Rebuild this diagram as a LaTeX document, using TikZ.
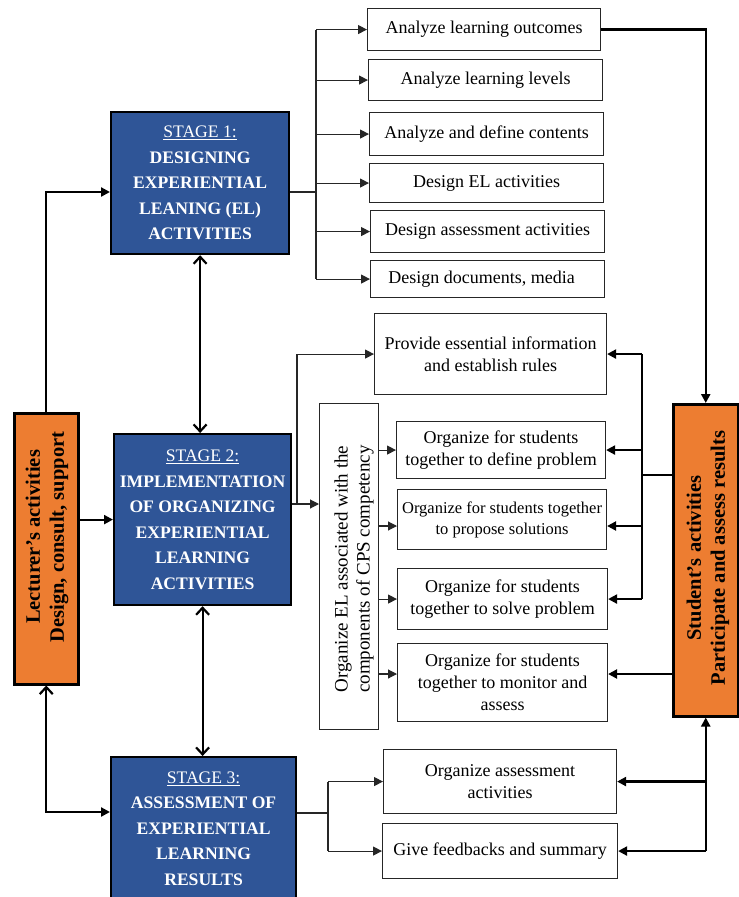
\documentclass[tikz,border=0pt]{standalone}
\usepackage{fontspec}
\setmainfont{Liberation Serif}
\usetikzlibrary{arrows.meta,calc}
\definecolor{stageblue}{HTML}{2F5597}
\definecolor{actorange}{HTML}{ED7D31}
\begin{document}
\begin{tikzpicture}[x=1pt,y=-1pt,
  stagebox/.style={draw=black, line width=2.2pt, fill=stageblue, text=white, align=center, font=\fontsize{17.6}{25.5}\selectfont\bfseries, inner sep=0pt, anchor=north west},
  actbox/.style={draw=black, line width=2.5pt, fill=actorange, inner sep=0pt, anchor=north west},
  acttext/.style={rotate=90, align=center, font=\fontsize{20.5}{24}\selectfont\bfseries, inner sep=0pt},
  taskbox/.style={draw=black!85, line width=1.1pt, fill=white, align=center, font=\fontsize{18}{22}\selectfont, inner sep=0pt, anchor=north west},
  thinline/.style={line width=1.1pt, draw=black!85},
  thickline/.style={line width=2.2pt, draw=black},
  arr/.style={-{Triangle[length=9pt,width=9pt]}},
  openarr/.style={{Straight Barb[length=7pt,width=13pt]}-{Straight Barb[length=7pt,width=13pt]}},
  barbtri/.style={{Straight Barb[length=7pt,width=13pt]}-{Triangle[length=9pt,width=9pt]}},
]
\clip (0,0) rectangle (739,897);
\fill[white] (0,0) rectangle (739,897);

% stage boxes
\node[stagebox, minimum width=178pt, minimum height=142pt] (s1) at (110,111)
  {\underline{\mdseries STAGE 1:}\\DESIGNING\\EXPERIENTIAL\\LEANING (EL)\\ACTIVITIES};
\node[stagebox, minimum width=177pt, minimum height=171pt] (s2) at (113,433)
  {\underline{\mdseries STAGE 2:}\\IMPLEMENTATION\\OF ORGANIZING\\EXPERIENTIAL\\LEARNING\\ACTIVITIES};
\node[stagebox, minimum width=185pt, minimum height=143pt] (s3) at (110,756)
  {\underline{\mdseries STAGE 3:}\\ASSESSMENT OF\\EXPERIENTIAL\\LEARNING\\RESULTS};

% actor boxes
\node[actbox, minimum width=64pt, minimum height=271pt] (L) at (13,412) {};
\node[acttext] (Lt) at (47,537) {Lecturer’s activities\\Design, consult, support};
\node[actbox, minimum width=65pt, minimum height=312pt] (St) at (672,403) {};
\node[acttext] (Stt) at (708,558) {Student’s activities\\Participate and assess results};

% task boxes stage 1
\node[taskbox, minimum width=233pt, minimum height=42pt] (b1) at (367,8) {Analyze learning outcomes};
\node[taskbox, minimum width=234pt, minimum height=41pt] (b2) at (368,59) {Analyze learning levels};
\node[taskbox, minimum width=234pt, minimum height=43pt] (b3) at (369,112) {Analyze and define contents};
\node[taskbox, minimum width=234pt, minimum height=39pt] (b4) at (369,163) {Design EL activities};
\node[taskbox, minimum width=234pt, minimum height=42pt] (b5) at (370,210) {Design assessment activities};
\node[taskbox, minimum width=234pt, minimum height=37pt] (b6) at (370,260) {\hspace*{-12pt}Design documents, media};

% stage 2 boxes
\node[taskbox, minimum width=232pt, minimum height=81pt] (pr) at (374,313) {Provide essential information\\and establish rules};
\node[taskbox, minimum width=59pt, minimum height=326pt] (cps) at (319,403) {};
\node[rotate=90, align=center, font=\fontsize{19}{22}\selectfont, inner sep=0pt] (cpst) at (354,569)
  {Organize EL associated with the\\components of CPS competency};
\node[taskbox, minimum width=209pt, minimum height=57pt] (od) at (396,421) {Organize for students\\together to define problem};
\node[taskbox, minimum width=209pt, minimum height=60pt, font=\fontsize{16.5}{21}\selectfont] (op) at (397,489) {Organize for students together\\to propose solutions};
\node[taskbox, minimum width=210pt, minimum height=61pt] (os) at (397,568) {Organize for students\\together to solve problem};
\node[taskbox, minimum width=210pt, minimum height=78pt] (om) at (397,643) {Organize for students\\together to monitor and\\assess};

% stage 3 boxes
\node[taskbox, minimum width=233pt, minimum height=64pt] (oa) at (383,749) {Organize assessment\\activities};
\node[taskbox, minimum width=235pt, minimum height=55pt] (gf) at (382,823) {Give feedbacks and summary};

% junction coordinates
\coordinate (yS1) at (0,192);
\coordinate (xB1) at (316,0);
\coordinate (yS2) at (0,504);
\coordinate (xB2) at (297,0);
\coordinate (xR) at (642,0);
\coordinate (yStL) at (0,475);
\coordinate (yOP) at (0,526);
\coordinate (yOM) at (0,674);
\coordinate (yL3) at (0,812);
\coordinate (yS3) at (0,813);
\coordinate (xB3) at (328,0);

% lecturer connectors
\draw[thickline,arr] (L.north) |- (s1.west |- yS1);
\draw[thickline,arr] (L.east |- s2.west) -- (s2.west);
\draw[thickline,barbtri] (L.south) |- (s3.west |- yL3);

% stage links
\draw[thickline,openarr] (s1.south) -- (s1.south |- s2.north);
\draw[thickline,openarr] (s2.south) -- (s2.south |- s3.north);

% stage 1 branch
\draw[thinline] (s1.east |- yS1) -- (xB1 |- yS1);
\draw[thinline] (xB1 |- b1.west) -- (xB1 |- b6.west);
\foreach \i in {1,...,6} \draw[thinline,arr] (xB1 |- b\i.west) -- (b\i.west);
\draw[thickline,arr] (b1.east) -| (St.north);

% stage 2 branch
\draw[thinline,arr] (s2.east |- yS2) -- (cps.west |- yS2);
\draw[thinline,arr] (xB2 |- yS2) |- (pr.west);
\draw[thinline,arr] (cps.east |- od.west) -- (od.west);
\draw[thinline,arr] (cps.east |- yOP) -- (op.west |- yOP);
\draw[thinline,arr] (cps.east |- os.west) -- (os.west);
\draw[thinline,arr] (cps.east |- yOM) -- (om.west |- yOM);

% student side
\draw[thickline] (St.west |- yStL) -- (xR |- yStL);
\draw[thickline] (xR |- pr.east) -- (xR |- os.east);
\draw[thickline,arr] (xR |- pr.east) -- (pr.east);
\draw[thickline,arr] (xR |- od.east) -- (od.east);
\draw[thickline,arr] (xR |- yOP) -- (op.east |- yOP);
\draw[thickline,arr] (xR |- os.east) -- (os.east);
\draw[thickline,arr] (St.west |- yOM) -- (om.east |- yOM);

% stage 3 branch
\draw[thinline] (s3.east |- yS3) -- (xB3 |- yS3);
\draw[thinline] (xB3 |- oa.west) -- (xB3 |- gf.west);
\draw[thinline,arr] (xB3 |- oa.west) -- (oa.west);
\draw[thinline,arr] (xB3 |- gf.west) -- (gf.west);
\draw[thickline,arr] (St.south |- gf.east) -- (St.south);
\draw[thickline,arr] (St.south |- oa.east) -- (oa.east);
\draw[thickline,arr] (St.south |- gf.east) -- (gf.east);
\end{tikzpicture}
\end{document}
